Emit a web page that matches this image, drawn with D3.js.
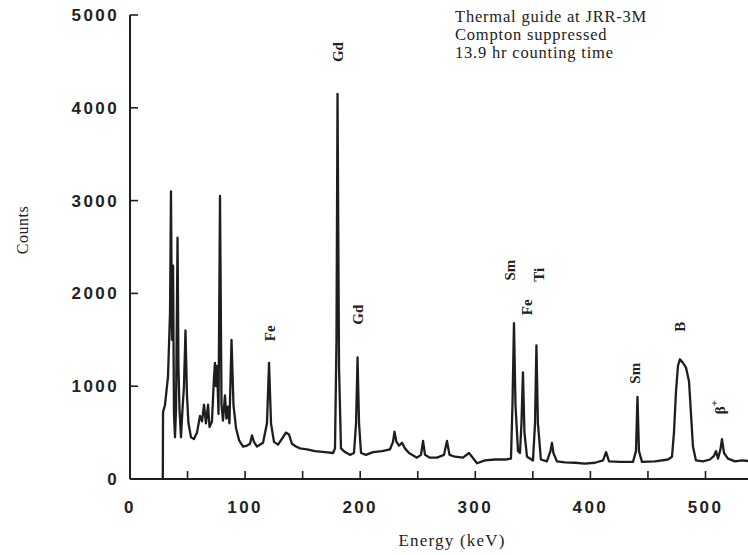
<!DOCTYPE html>
<html>
<head>
<meta charset="utf-8">
<script src="https://cdn.jsdelivr.net/npm/d3@7"></script>
<style>
    body { margin: 0; background: #fff; }
    #chart { width: 748px; height: 555px; }
    .tick-label { font-family: "Liberation Sans", Arial, sans-serif; font-weight: bold; font-size: 17px; letter-spacing: 2.4px; fill: #222; }
    .serif { font-family: "Liberation Serif", "Times New Roman", serif; fill: #222; }
</style>
</head>
<body>
<div id="chart"></div>
<script>

// spectrum (keV, counts)
const energy = [28.5, 28.7, 30.4, 33.0, 34.8, 35.6, 36.5, 37.4, 38.2, 39.1, 40.0, 41.3, 42.1, 43.0, 44.3, 45.6, 46.9, 48.2, 49.5, 50.8,
    53.0, 55.6, 58.2, 60.8, 62.6, 64.3, 66.0, 67.8, 69.1, 71.2, 73.0, 73.8, 74.7, 75.6, 76.9, 78.2, 79.5, 80.8, 82.5, 83.8,
    85.1, 86.4, 88.2, 89.9, 92.1, 94.7, 98.2, 101.7, 104.3, 106.0, 107.7, 110.3, 115.6, 119.0, 120.8, 122.5, 125.1, 128.6, 132.9, 135.5,
    138.1, 140.7, 144.2, 147.7, 153.8, 160.7, 169.4, 176.4, 178.1, 179.4, 180.3, 181.6, 183.3, 186.8, 191.1, 194.6, 196.4, 197.7, 199.0, 200.7,
    205.0, 211.1, 219.0, 225.9, 228.5, 229.8, 231.5, 233.7, 236.3, 238.9, 242.4, 249.3, 252.8, 254.6, 256.3, 260.6, 266.7, 272.8, 275.4, 277.6,
    282.4, 289.3, 294.5, 297.1, 301.5, 308.4, 317.1, 325.8, 331.0, 332.3, 333.6, 334.9, 337.1, 338.8, 340.1, 341.4, 342.7, 344.9, 347.5, 350.1,
    351.9, 353.1, 354.4, 357.0, 362.2, 365.3, 366.6, 367.9, 370.9, 377.9, 386.6, 395.3, 404.0, 411.0, 413.6, 416.2, 425.7, 437.0, 439.6, 440.9,
    442.2, 444.8, 456.1, 467.4, 470.9, 472.6, 474.4, 476.1, 477.8, 480.5, 483.1, 485.7, 487.4, 489.1, 491.7, 497.8, 503.9, 507.4, 509.1, 510.9,
    513.0, 514.3, 516.1, 519.5, 525.6, 531.7, 540.0];

const counts = [0, 720, 800, 1100, 1800, 3100, 1500, 2300, 700, 450, 750, 2600, 1200, 750, 450, 750, 1000, 1600, 900, 600,
    450, 430, 500, 680, 620, 800, 600, 800, 560, 620, 1100, 1250, 1000, 1220, 700, 3050, 800, 630, 900, 650,
    780, 600, 1500, 800, 550, 420, 350, 360, 380, 470, 400, 350, 390, 600, 1250, 600, 400, 370, 450, 500,
    480, 380, 350, 330, 320, 300, 290, 280, 330, 1500, 4150, 1200, 330, 290, 260, 280, 600, 1310, 600, 280,
    260, 290, 300, 320, 400, 510, 400, 360, 390, 330, 280, 230, 260, 410, 260, 230, 230, 260, 410, 260,
    240, 230, 280, 240, 170, 200, 210, 210, 220, 800, 1680, 800, 300, 280, 600, 1150, 500, 240, 220, 200,
    600, 1440, 600, 210, 190, 300, 390, 280, 190, 180, 175, 165, 175, 200, 290, 190, 185, 185, 300, 885,
    300, 185, 190, 210, 240, 500, 950, 1220, 1290, 1250, 1200, 1050, 700, 350, 200, 190, 210, 250, 300, 220,
    320, 430, 280, 220, 190, 200, 190];

const xTicks = [0, 50, 100, 150, 200, 250, 300, 350, 400, 450, 500];
const xTickLabels = [0, 100, 200, 300, 400, 500];
const yTicks = [0, 1000, 2000, 3000, 4000, 5000];

// peak labels: element, superscript, energy (keV), label height (counts)
const peakNames = ["Gd", "Fe", "Gd", "Sm", "Fe", "Ti", "Sm", "B", "β"];
const peakSup = ["", "", "", "", "", "", "", "", "+"];
const peakEnergy = [180.7, 121.6, 198.0, 330.0, 345.0, 355.0, 438.7, 477.8, 512.6];
const peakHeight = [4600, 1570, 1770, 2250, 1850, 2200, 1140, 1640, 775];

const noteLines = ["Thermal guide at JRR-3M", "Compton suppressed", "13.9 hr counting time"];


const width = 748;
const height = 555;

const svg = d3.select("#chart")
    .append("svg")
    .attr("width", width)
    .attr("height", height);

const x = d3.scaleLinear()
    .domain([0, 500])
    .range([130, 705.5]);

const y = d3.scaleLinear()
    .domain([0, 5000])
    .range([479, 15]);

const ink = "#1e1e1e";


//AXES
// x axis line runs to the edge of the picture, ticks point up
svg.append("line")
    .attr("x1", x(0)).attr("x2", width)
    .attr("y1", y(0)).attr("y2", y(0))
    .attr("stroke", ink).attr("stroke-width", 2);

svg.selectAll("line.xtick")
    .data(xTicks)
    .enter().append("line")
    .attr("class", "xtick")
    .attr("x1", d => x(d)).attr("x2", d => x(d))
    .attr("y1", y(0)).attr("y2", y(0) - 8)
    .attr("stroke", ink).attr("stroke-width", 1.6);

svg.selectAll("text.xlab")
    .data(xTickLabels)
    .enter().append("text")
    .attr("class", "xlab tick-label")
    .attr("x", d => x(d))
    .attr("y", 513)
    .attr("text-anchor", "middle")
    .text(d => d);

// y axis
svg.append("line")
    .attr("x1", x(0)).attr("x2", x(0))
    .attr("y1", y(0)).attr("y2", y(5000))
    .attr("stroke", ink).attr("stroke-width", 2);

svg.selectAll("line.ytick")
    .data(yTicks)
    .enter().append("line")
    .attr("class", "ytick")
    .attr("x1", x(0)).attr("x2", x(0) + 8)
    .attr("y1", d => y(d)).attr("y2", d => y(d))
    .attr("stroke", ink).attr("stroke-width", 1.6);

svg.selectAll("text.ylab")
    .data(yTicks)
    .enter().append("text")
    .attr("class", "ylab tick-label")
    .attr("x", 119)
    .attr("y", d => y(d) + 6)
    .attr("text-anchor", "end")
    .text(d => d);

svg.append("text")
    .attr("class", "serif")
    .attr("transform", "translate(28,230) rotate(-90)")
    .attr("text-anchor", "middle")
    .attr("font-size", 16)
    .attr("letter-spacing", 0.5)
    .text("Counts");

svg.append("text")
    .attr("class", "serif")
    .attr("x", 452)
    .attr("y", 546)
    .attr("text-anchor", "middle")
    .attr("font-size", 17)
    .attr("letter-spacing", 1.2)
    .text("Energy (keV)");


//SPECTRUM
const spectrum = d3.zip(energy, counts);

const line = d3.line()
    .x(d => x(d[0]))
    .y(d => y(d[1]));

svg.append("path")
    .datum(spectrum)
    .attr("d", line)
    .attr("fill", "none")
    .attr("stroke", ink)
    .attr("stroke-width", 2.3)
    .attr("stroke-linejoin", "round");


//PEAK LABELS
const labels = svg.selectAll("text.peak")
    .data(d3.range(peakNames.length))
    .enter().append("text")
    .attr("class", "peak serif")
    .attr("transform", i => `translate(${x(peakEnergy[i])},${y(peakHeight[i])}) rotate(-90)`)
    .attr("text-anchor", "middle")
    .attr("dominant-baseline", "central")
    .attr("font-size", 15)
    .attr("font-weight", "bold");

labels.append("tspan").text(i => peakNames[i]);
labels.append("tspan")
    .attr("dy", -6)
    .attr("font-size", 11)
    .text(i => peakSup[i]);


//NOTE
svg.selectAll("text.note")
    .data(noteLines)
    .enter().append("text")
    .attr("class", "note serif")
    .attr("x", 455)
    .attr("y", (d, i) => 22 + i * 18)
    .attr("font-size", 16.5)
    .attr("letter-spacing", 0.8)
    .text(d => d);

</script>
</body>
</html>
